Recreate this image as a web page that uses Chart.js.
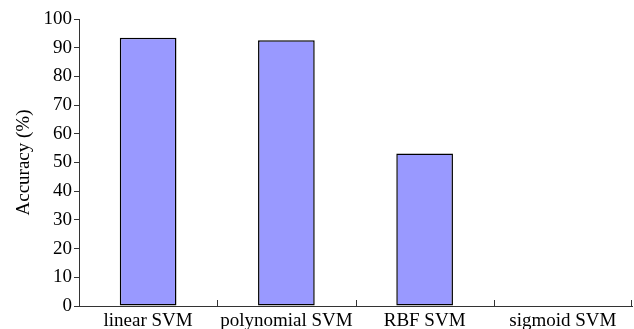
<!DOCTYPE html>
<html>
<head>
<meta charset="utf-8">
<script src="https://cdn.jsdelivr.net/npm/chart.js@4/dist/chart.umd.min.js"></script>
<style>
  html, body { margin: 0; padding: 0; background: #fff; }
  #wrap { width: 634px; height: 329px; }
</style>
</head>
<body>
<div id="wrap"><canvas id="chart" width="634" height="329"></canvas></div>
<script>
const categories = ['linear SVM', 'polynomial SVM', 'RBF SVM', 'sigmoid SVM'];
const accuracy = [93.5, 92.6, 53.1, 0];
const yTicks = [0, 10, 20, 30, 40, 50, 60, 70, 80, 90, 100];

const serif = '"Liberation Serif", "Times New Roman", serif';

// Excel-style x ticks: short marks pointing up at category boundaries
const catTicks = {
  id: 'catTicks',
  afterDraw(chart) {
    const ctx = chart.ctx;
    const x = chart.scales.x;
    const area = chart.chartArea;
    ctx.save();
    ctx.strokeStyle = '#333';
    ctx.lineWidth = 1;
    ctx.beginPath();
    for (let i = 1; i <= categories.length; i++) {
      const px = i < categories.length
        ? Math.round((x.getPixelForValue(i - 1) + x.getPixelForValue(i)) / 2) + 0.5
        : area.right - 0.5;
      ctx.moveTo(px, area.bottom);
      ctx.lineTo(px, area.bottom - 6);
    }
    ctx.stroke();
    ctx.restore();
  }
};

new Chart(document.getElementById('chart'), {
  type: 'bar',
  data: {
    labels: categories,
    datasets: [{
      data: accuracy,
      backgroundColor: '#9999FF',
      borderColor: '#000',
      borderWidth: 1.5,
      borderSkipped: false,
      barPercentage: 0.41,
      categoryPercentage: 1
    }]
  },
  options: {
    responsive: false,
    animation: false,
    layout: { padding: { top: 19, right: 2, bottom: 0, left: 0 } },
    plugins: {
      legend: { display: false },
      tooltip: { enabled: false }
    },
    scales: {
      x: {
        afterFit(axis) { axis.height = 23; },
        grid: { display: true, drawOnChartArea: false, drawTicks: false },
        border: { color: '#333', width: 1 },
        ticks: {
          color: '#000',
          padding: 4,
          maxRotation: 0,
          autoSkip: false,
          font: { family: serif, size: 19 }
        }
      },
      y: {
        min: 0,
        max: 100,
        afterBuildTicks(axis) {
          axis.ticks = yTicks.map(v => ({ value: v }));
        },
        afterFit(axis) { axis.width = 79; },
        grid: { drawOnChartArea: false, tickLength: 5, color: '#333' },
        border: { color: '#333', width: 1 },
        ticks: {
          color: '#000',
          padding: 2,
          font: { family: serif, size: 19 }
        },
        title: {
          display: true,
          text: 'Accuracy (%)',
          color: '#000',
          padding: { top: 13, bottom: 0 },
          font: { family: serif, size: 19 }
        }
      }
    }
  },
  plugins: [catTicks]
});
</script>
</body>
</html>
